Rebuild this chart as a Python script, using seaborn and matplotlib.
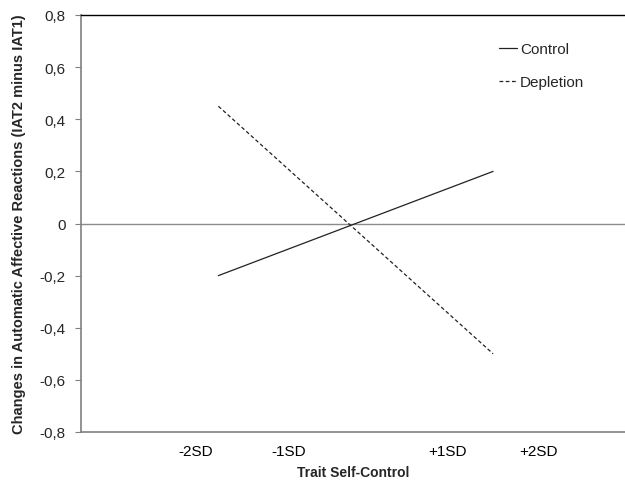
import matplotlib
matplotlib.use("Agg")
import matplotlib.pyplot as plt
import seaborn as sns
import pandas as pd

# Data
conditions = ["Control", "Control", "Depletion", "Depletion"]
trait_x = [-1, 1, -1, 1]
change = [-0.2, 0.2, 0.45, -0.5]

x_tick_labels = ["-2SD", "-1SD", "+1SD", "+2SD"]
y_ticks = [-0.8, -0.6, -0.4, -0.2, 0, 0.2, 0.4, 0.6, 0.8]
y_tick_labels = ["-0,8", "-0,6", "-0,4", "-0,2", "0", "0,2", "0,4", "0,6", "0,8"]

df = pd.DataFrame({"condition": conditions, "trait": trait_x, "change": change})

sns.set_theme(style="white")
plt.rcParams["font.family"] = ["Liberation Sans", "DejaVu Sans"]

fig = plt.figure(figsize=(6.25, 4.81), dpi=100)
ax = fig.add_axes([81 / 625, 1 - 433 / 481, 544 / 625, 417 / 481])

sns.lineplot(data=df, x="trait", y="change", style="condition",
             dashes={"Control": "", "Depletion": (3, 2)},
             color="#222222", linewidth=0.9, ax=ax)

ax.axhline(0, color="#8c8c8c", linewidth=1.0, zorder=0)

ax.set_xlim(-2, 1.96)
ax.set_ylim(-0.8, 0.8)
ax.set_yticks(y_ticks)
ax.set_yticklabels(y_tick_labels, fontsize=11)
ax.set_xticks([-1.167, -0.491, 0.665, 1.327])
ax.set_xticklabels(x_tick_labels, fontsize=11)
ax.tick_params(axis="x", length=0, pad=9, colors="black")
ax.tick_params(axis="y", length=4, width=0.8, color="#808080", pad=7, left=True)

for side in ["left", "bottom"]:
    ax.spines[side].set_color("#808080")
    ax.spines[side].set_linewidth(1.2)
ax.spines["top"].set_color("black")
ax.spines["top"].set_linewidth(1.0)
ax.spines["right"].set_visible(False)

ax.set_xlabel("Trait Self-Control", fontsize=10, fontweight="bold", labelpad=5)
ax.set_ylabel("Changes in Automatic Affective Reactions (IAT2 minus IAT1)",
              fontsize=10.5, fontweight="bold", labelpad=10)

leg = ax.legend(loc="upper left", bbox_to_anchor=(0.768, 0.935), frameon=False,
                fontsize=11, handlelength=1.2, handletextpad=0.2,
                labelspacing=1.25, borderpad=0, borderaxespad=0)
for line in leg.get_lines():
    line.set_linewidth(0.9)

fig.savefig("out.png", dpi=100)
